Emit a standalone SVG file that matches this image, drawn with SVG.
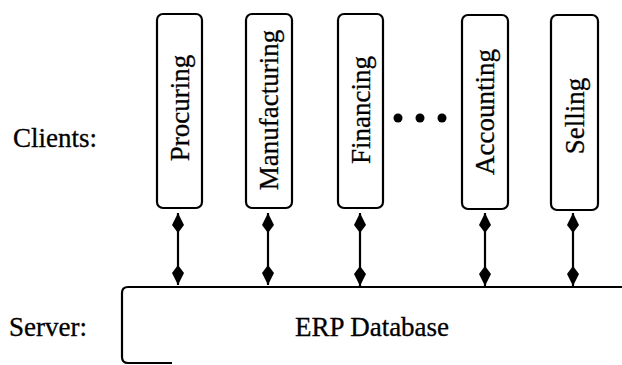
<svg xmlns="http://www.w3.org/2000/svg" width="622" height="365" viewBox="0 0 622 365">
<defs>
<marker id="kite" viewBox="0 0 20 14" refX="20" refY="7" markerWidth="20" markerHeight="14" markerUnits="userSpaceOnUse" orient="auto-start-reverse">
<path d="M20,7 L8,1 L0,7 L8,13 Z" fill="#000"/>
</marker>
<style>
.box{fill:#fff;stroke:#000;stroke-width:2.2}
.lbl{font-family:"Liberation Serif","Times New Roman",serif;font-size:27px;fill:#000;stroke:#000;stroke-width:0.3}
.conn{stroke:#000;stroke-width:2.2;fill:none}
</style>
</defs>
<rect width="622" height="365" fill="#fff"/>
<text class="lbl" x="13" y="147" font-size="28">Clients:</text>
<text class="lbl" x="9" y="336" font-size="28">Server:</text>
<g id="procuring">
<rect class="box" x="157" y="14" width="45" height="194" rx="6"/>
<text class="lbl" text-anchor="middle" transform="translate(189,108) rotate(-90)">Procuring</text>
</g>
<g id="manufacturing">
<rect class="box" x="246" y="14" width="46" height="194" rx="6"/>
<text class="lbl" text-anchor="middle" transform="translate(278,110) rotate(-90)">Manufacturing</text>
</g>
<g id="financing">
<rect class="box" x="338" y="14" width="45" height="194" rx="6"/>
<text class="lbl" text-anchor="middle" transform="translate(370,110) rotate(-90)">Financing</text>
</g>
<g id="ellipsis">
<circle cx="398" cy="118" r="4.5"/>
<circle cx="420" cy="118" r="4.5"/>
<circle cx="442" cy="118" r="4.5"/>
</g>
<g id="accounting">
<rect class="box" x="462" y="15" width="46" height="194" rx="6"/>
<text class="lbl" text-anchor="middle" transform="translate(494,112) rotate(-90)">Accounting</text>
</g>
<g id="selling">
<rect class="box" x="551" y="15" width="47" height="195" rx="6"/>
<text class="lbl" text-anchor="middle" transform="translate(584,116) rotate(-90)">Selling</text>
</g>
<g id="server">
<path class="conn" d="M172,363 H128 Q122,363 122,357 V293 Q122,287 128,287 H622"/>
<text class="lbl" text-anchor="middle" x="372" y="336">ERP Database</text>
</g>
<g id="connectors">
<line class="conn" x1="178" y1="213" x2="178" y2="285" marker-start="url(#kite)" marker-end="url(#kite)"/>
<line class="conn" x1="268" y1="213" x2="268" y2="285" marker-start="url(#kite)" marker-end="url(#kite)"/>
<line class="conn" x1="360" y1="213" x2="360" y2="286" marker-start="url(#kite)" marker-end="url(#kite)"/>
<line class="conn" x1="485" y1="213" x2="485" y2="286" marker-start="url(#kite)" marker-end="url(#kite)"/>
<line class="conn" x1="573" y1="213" x2="573" y2="286" marker-start="url(#kite)" marker-end="url(#kite)"/>
</g>
</svg>
